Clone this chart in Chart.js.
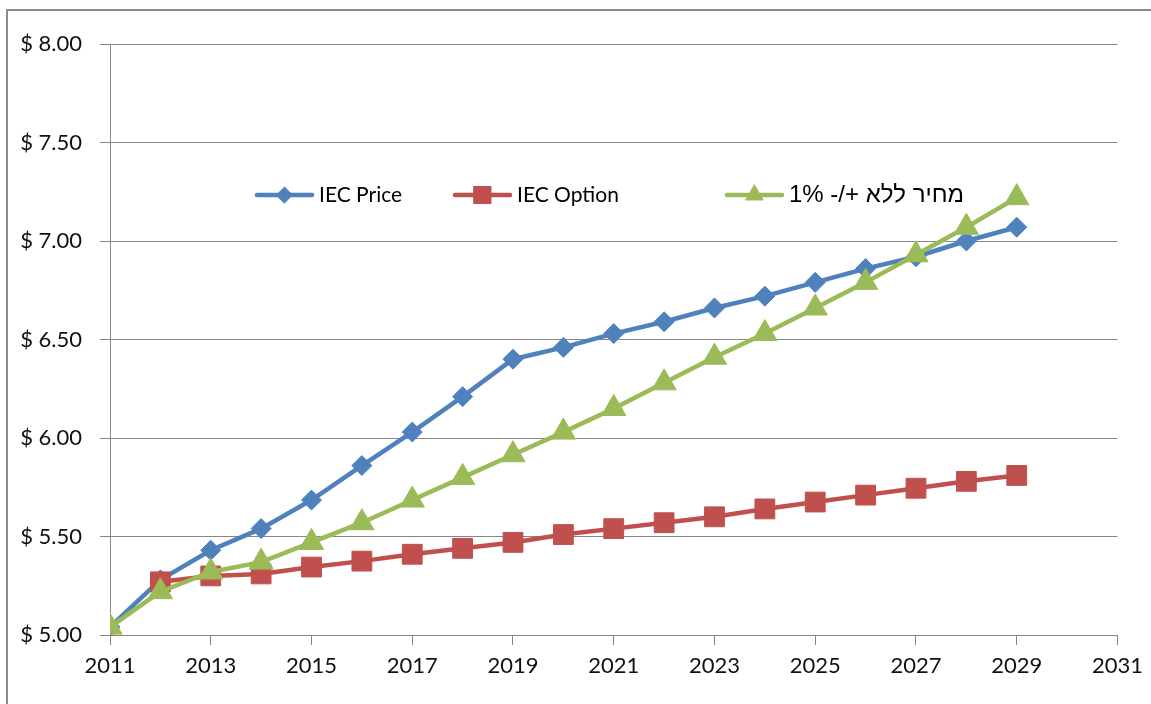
<!DOCTYPE html>
<html>
<head>
<meta charset="utf-8">
<script src="https://cdn.jsdelivr.net/npm/chart.js@4/dist/chart.umd.min.js"></script>
<style>
  html, body { margin: 0; padding: 0; background: #fff; }
  #wrap { position: relative; width: 1151px; height: 704px; overflow: hidden; }
  #frame { position: absolute; left: 6px; top: 9px; width: 1200px; height: 800px;
           border-left: 2px solid #8c8c8c; border-top: 2px solid #8c8c8c; }
  canvas { position: absolute; left: 0; top: 0; }
</style>
</head>
<body>
<div id="wrap">
  <div id="frame"></div>
  <canvas id="grafico" width="1151" height="704"></canvas>
</div>
<script>
// --- DADOS ---
const anos = [2011, 2012, 2013, 2014, 2015, 2016, 2017, 2018, 2019, 2020,
              2021, 2022, 2023, 2024, 2025, 2026, 2027, 2028, 2029];

const iecPrice = [5.04, 5.28, 5.43, 5.54, 5.685, 5.86, 6.03, 6.21, 6.40, 6.46,
                  6.53, 6.59, 6.66, 6.72, 6.79, 6.86, 6.92, 7.00, 7.07];

const iecOption = [null, 5.27, 5.30, 5.31, 5.345, 5.375, 5.41, 5.44, 5.47, 5.51,
                   5.54, 5.57, 5.60, 5.64, 5.675, 5.71, 5.745, 5.78, 5.81];

const semVariacao = [5.04, 5.22, 5.32, 5.37, 5.47, 5.57, 5.685, 5.80, 5.915, 6.03,
                     6.15, 6.28, 6.41, 6.53, 6.66, 6.79, 6.93, 7.07, 7.22];

const nomesSeries = ['IEC Price', 'IEC Option', '\u202Bמחיר ללא +/- 1%\u202C'];

const FONTE = 'Lato, "Open Sans", sans-serif';
const CINZA = '#868686';

// legenda desenhada dentro da area do grafico
const legendaX = [257, 455, 727];
const legendaY = 195;
const legendaRaio = [8, 12, 10];
const legendaFonte = ['21px ' + FONTE, '21px ' + FONTE, '24px "Liberation Sans", "DejaVu Sans", sans-serif'];

const legendaInterna = {
  id: 'legendaInterna',
  afterDraw(chart) {
    const ctx = chart.ctx;
    ctx.save();
    chart.data.datasets.forEach((ds, i) => {
      const x0 = legendaX[i];
      const largura = 55;
      ctx.strokeStyle = ds.borderColor;
      ctx.lineWidth = 4.5;
      ctx.lineCap = 'round';
      ctx.beginPath();
      ctx.moveTo(x0, legendaY);
      ctx.lineTo(x0 + largura, legendaY);
      ctx.stroke();
      ctx.fillStyle = ds.borderColor;
      ctx.lineWidth = 1;
      Chart.helpers.drawPoint(ctx, {
        pointStyle: ds.pointStyle, radius: legendaRaio[i], rotation: 0, borderWidth: 1
      }, x0 + largura / 2, legendaY);
      ctx.fillStyle = '#000';
      ctx.font = legendaFonte[i];
      ctx.textBaseline = 'middle';
      ctx.textAlign = 'left';
      ctx.fillText(ds.label, x0 + largura + 7, legendaY);
    });
    ctx.restore();
  }
};

function serie(label, data, cor, estilo, raio, ordem) {
  return {
    label: label,
    data: data,
    borderColor: cor,
    backgroundColor: cor,
    pointBackgroundColor: cor,
    pointBorderColor: cor,
    pointBorderWidth: 1,
    pointStyle: estilo,
    pointRadius: raio,
    borderWidth: 4.5,
    tension: 0,
    order: ordem
  };
}

new Chart(document.getElementById('grafico').getContext('2d'), {
  type: 'line',
  data: {
    labels: anos,
    datasets: [
      serie(nomesSeries[0], iecPrice, '#4F81BD', 'rectRot', 10, 2),
      serie(nomesSeries[1], iecOption, '#C0504D', 'rect', 14, 1),
      serie(nomesSeries[2], semVariacao, '#9BBB59', 'triangle', 14, 0)
    ]
  },
  options: {
    responsive: false,
    animation: false,
    devicePixelRatio: 1,
    layout: { padding: { top: 44, right: 33, bottom: 0, left: 0 } },
    plugins: {
      legend: { display: false },
      tooltip: { enabled: false }
    },
    scales: {
      x: {
        type: 'linear',
        min: 2011,
        max: 2031,
        afterFit: s => { s.height = 69; },
        ticks: {
          stepSize: 2,
          color: '#111',
          padding: 8,
          font: { family: FONTE, size: 22 },
          callback: v => String(v)
        },
        grid: { drawOnChartArea: false, drawTicks: true, tickLength: 10, color: CINZA },
        border: { display: true, color: CINZA, width: 1 }
      },
      y: {
        min: 5,
        max: 8,
        afterFit: s => { s.width = 110; },
        ticks: {
          stepSize: 0.5,
          color: '#111',
          padding: 18,
          font: { family: FONTE, size: 22 },
          callback: v => '$ ' + Number(v).toFixed(2)
        },
        grid: { color: CINZA, tickLength: 10, lineWidth: 1 },
        border: { display: true, color: CINZA, width: 1 }
      }
    }
  },
  plugins: [legendaInterna]
});
</script>
</body>
</html>
